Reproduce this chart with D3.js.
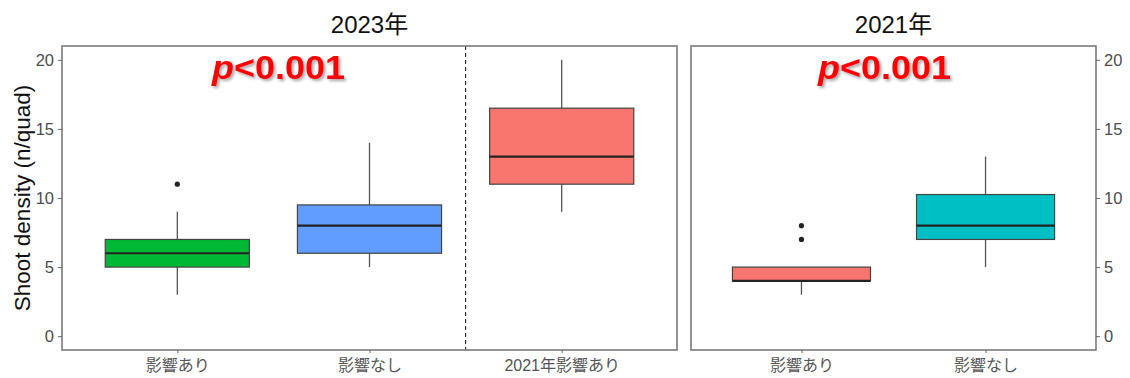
<!DOCTYPE html>
<html><head><meta charset="utf-8">
<script src="https://cdn.jsdelivr.net/npm/d3@7"></script>
<style>body{margin:0;background:#fff}svg{display:block}</style>
</head><body>
<svg id="c" width="1130" height="378"></svg>
<script>
// ---- data ----
const panelTitles = ["2023年", "2021年"];
const cats2023 = ["影響あり", "影響なし", "2021年影響あり"];
const cats2021 = ["影響あり", "影響なし"];
// [lowWhisker, Q1, median, Q3, highWhisker]
const stats2023 = [[3, 5, 6, 7, 9], [5, 6, 8, 9.5, 14], [9, 11, 13, 16.5, 20]];
const stats2021 = [[3, 4, 4, 5, 5], [5, 7, 8, 10.25, 13]];
const outliers2023 = [[11], [], []];
const outliers2021 = [[7, 8], []];
const colors2023 = ["#00B833", "#619CFF", "#F8766D"];
const colors2021 = ["#F8766D", "#00BFC4"];
const yTicks = [0, 5, 10, 15, 20];
const pLabel = "p<0.001";
const yLabel = "Shoot density (n/quad)";

const svg = d3.select("#c");
const defs = svg.append("defs");
const f = defs.append("filter").attr("id", "sh").attr("x", "-10%").attr("y", "-20%").attr("width", "130%").attr("height", "160%");
f.append("feDropShadow").attr("dx", 2).attr("dy", 2).attr("stdDeviation", 1.5).attr("flood-color", "#000").attr("flood-opacity", 0.35);

const pTop = 46, pBottom = 350;
const y = d3.scaleLinear().domain([-1, 21]).range([pBottom, pTop]);
const font = "'Liberation Sans', Arial, sans-serif";
const mixed = "'Liberation Sans', 'Noto Sans CJK JP', sans-serif";

function panel(x0, x1, cats, stats, outs, cols, title, axisRight, dashed) {
  const g = svg.append("g");
  const xp = d3.scalePoint().domain(cats).range([x0, x1]).padding(0.6);
  const bw = 0.75 * xp.step();

  if (dashed) {
    const xm = (xp(cats[1]) + xp(cats[2])) / 2;
    g.append("line").attr("x1", xm).attr("x2", xm).attr("y1", pTop).attr("y2", pBottom)
      .attr("stroke", "#222").attr("stroke-width", 1.1).attr("stroke-dasharray", "4,3");
  }

  cats.forEach((c, i) => {
    const s = stats[i], cx = xp(c);
    g.append("line").attr("x1", cx).attr("x2", cx).attr("y1", y(s[0])).attr("y2", y(s[1]))
      .attr("stroke", "#555").attr("stroke-width", 1.3);
    g.append("line").attr("x1", cx).attr("x2", cx).attr("y1", y(s[3])).attr("y2", y(s[4]))
      .attr("stroke", "#555").attr("stroke-width", 1.3);
    g.append("rect").attr("x", cx - bw / 2).attr("width", bw)
      .attr("y", y(s[3])).attr("height", y(s[1]) - y(s[3]))
      .attr("fill", cols[i]).attr("stroke", "#444").attr("stroke-width", 1.2);
    g.append("line").attr("x1", cx - bw / 2).attr("x2", cx + bw / 2).attr("y1", y(s[2])).attr("y2", y(s[2]))
      .attr("stroke", "#222").attr("stroke-width", 2.2);
    outs[i].forEach(o => g.append("circle").attr("cx", cx).attr("cy", y(o)).attr("r", 2.6).attr("fill", "#222"));
  });

  // frame
  g.append("rect").attr("x", x0).attr("y", pTop).attr("width", x1 - x0).attr("height", pBottom - pTop)
    .attr("fill", "none").attr("stroke", "#7a7a7a").attr("stroke-width", 1.6);

  // x axis
  const xa = g.append("g").attr("transform", `translate(0,${pBottom})`).call(d3.axisBottom(xp).tickSize(3).tickSizeOuter(0));
  xa.select(".domain").remove();
  xa.selectAll("line").attr("stroke", "#666");
  xa.selectAll("text").attr("font-family", mixed).attr("font-size", 16).attr("fill", "#555")
    .attr("dy", null).attr("y", 21);

  // y axis
  const ya = g.append("g").attr("transform", `translate(${axisRight ? x1 : x0},0)`)
    .call((axisRight ? d3.axisRight(y) : d3.axisLeft(y)).tickValues(yTicks).tickSize(4).tickSizeOuter(0));
  ya.select(".domain").remove();
  ya.selectAll("line").attr("stroke", "#666");
  ya.selectAll("text").attr("font-family", font).attr("font-size", 16.5).attr("fill", "#4d4d4d")
    .attr("x", axisRight ? 8 : -8);

  // title
  svg.append("text").attr("x", (x0 + x1) / 2).attr("y", 33).attr("text-anchor", "middle")
    .attr("font-family", mixed).attr("font-size", 24).attr("fill", "#111").text(title);
}

panel(62, 677, cats2023, stats2023, outliers2023, colors2023, panelTitles[0], false, true);
panel(691, 1096, cats2021, stats2021, outliers2021, colors2021, panelTitles[1], true, false);

// p labels
[[212, 79], [818, 79]].forEach(([lx, by]) => {
  const t = svg.append("text").attr("x", lx).attr("y", by)
    .attr("font-family", font).attr("font-weight", "bold").attr("font-size", 33).attr("fill", "#FF0000")
    .attr("filter", "url(#sh)").attr("textLength", 133).attr("lengthAdjust", "spacingAndGlyphs");
  t.append("tspan").attr("font-style", "italic").text(pLabel.slice(0, 1));
  t.append("tspan").text(pLabel.slice(1));
});

// y label
svg.append("text").attr("transform", "translate(30,198) rotate(-90)").attr("text-anchor", "middle")
  .attr("font-family", font).attr("font-size", 22.5).attr("fill", "#111").text(yLabel);
</script>
</body></html>
